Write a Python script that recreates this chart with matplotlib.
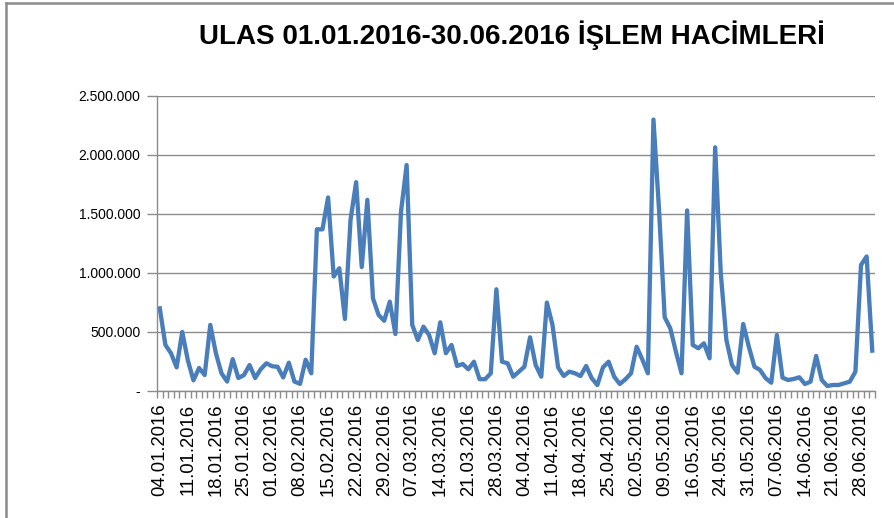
import matplotlib
matplotlib.use("Agg")
from matplotlib import pyplot as plt
from matplotlib.lines import Line2D
from matplotlib.ticker import FuncFormatter, FixedLocator
import numpy

# daily trade volume, one value per trading day 04.01.2016 - 30.06.2016
volumes = [
    700000, 390000, 320000, 200000, 500000, 260000, 90000, 195000, 135000, 560000,
    320000, 150000, 80000, 270000, 110000, 135000, 220000, 110000, 185000, 235000,
    210000, 205000, 115000, 240000, 80000, 60000, 265000, 150000, 1370000, 1370000,
    1640000, 970000, 1040000, 610000, 1450000, 1770000, 1050000, 1620000, 785000, 645000,
    595000, 757000, 483000, 1520000, 1915000, 560000, 432000, 545000, 475000, 320000,
    582000, 320000, 390000, 212000, 229000, 184000, 248000, 100000, 100000, 150000,
    862000, 248000, 235000, 121000, 164000, 206000, 455000, 220000, 121000, 749000,
    560000, 200000, 127000, 164000, 150000, 127000, 212000, 108000, 51000, 200000,
    248000, 121000, 59000, 99000, 150000, 375000, 269000, 150000, 2300000, 1530000,
    625000, 531000, 333000, 150000, 1530000, 390000, 362000, 404000, 277000, 2065000,
    997000, 432000, 220000, 155000, 568000, 375000, 206000, 178000, 108000, 70000,
    475000, 113000, 93000, 102000, 116000, 59000, 79000, 297000, 93000, 42000,
    51000, 51000, 65000, 79000, 164000, 1068000, 1140000, 342000,
]

date_labels = [
    "04.01.2016", "11.01.2016", "18.01.2016", "25.01.2016", "01.02.2016",
    "08.02.2016", "15.02.2016", "22.02.2016", "29.02.2016", "07.03.2016",
    "14.03.2016", "21.03.2016", "28.03.2016", "04.04.2016", "11.04.2016",
    "18.04.2016", "25.04.2016", "02.05.2016", "09.05.2016", "16.05.2016",
    "24.05.2016", "31.05.2016", "07.06.2016", "14.06.2016", "21.06.2016",
    "28.06.2016",
]
label_every = 5

def fmt_tr(v, pos):
    if v == 0:
        return "-"
    return "{:,.0f}".format(v).replace(",", ".")

plt.rcParams['font.family'] = ['Liberation Sans', 'DejaVu Sans']

fig = plt.figure(figsize=(8.94, 5.18), dpi=100)
ax = fig.add_axes([0.1756, 0.2452, 0.8032, 0.5695])

x = numpy.arange(len(volumes))
ax.plot(x, volumes, color='#4A7EBB', lw=3.1, solid_joinstyle='round')

ax.set_xlim(-0.5, len(volumes) - 0.5)
ax.set_ylim(0, 2500000)
ax.set_yticks(numpy.arange(0, 2500001, 500000))
ax.yaxis.set_major_formatter(FuncFormatter(fmt_tr))
ax.grid(axis='y', color='#8C8C8C', lw=1)
ax.set_axisbelow(True)

# labels every 5 trading days, small tick at every category boundary
ax.set_xticks(x[::label_every][:len(date_labels)], date_labels, rotation=90)
ax.xaxis.set_minor_locator(FixedLocator(numpy.arange(-0.5, len(volumes), 1)))
ax.tick_params(axis='x', which='major', length=0, pad=9, labelsize=13.3)
ax.tick_params(axis='x', which='minor', length=5, color='#8C8C8C', width=1)
ax.tick_params(axis='y', length=7, color='#8C8C8C', width=1, pad=5, labelsize=10)

for s in ['top', 'right']:
    ax.spines[s].set_visible(False)
for s in ['left', 'bottom']:
    ax.spines[s].set_color('#8C8C8C')
    ax.spines[s].set_linewidth(1)

fig.text(0.573, 0.932, "ULAS 01.01.2016-30.06.2016 İŞLEM HACİMLERİ",
         ha='center', va='center', fontsize=20, fontweight='bold')

# chart frame, cut off on the right and at the bottom
fig.lines.append(Line2D([0.007, 0.007], [0.0, 0.994], transform=fig.transFigure,
                        color='#8C8C8C', lw=1.8))
fig.lines.append(Line2D([0.007, 1.0], [0.994, 0.994], transform=fig.transFigure,
                        color='#8C8C8C', lw=1.8))

fig.savefig("out.png", dpi=100)
